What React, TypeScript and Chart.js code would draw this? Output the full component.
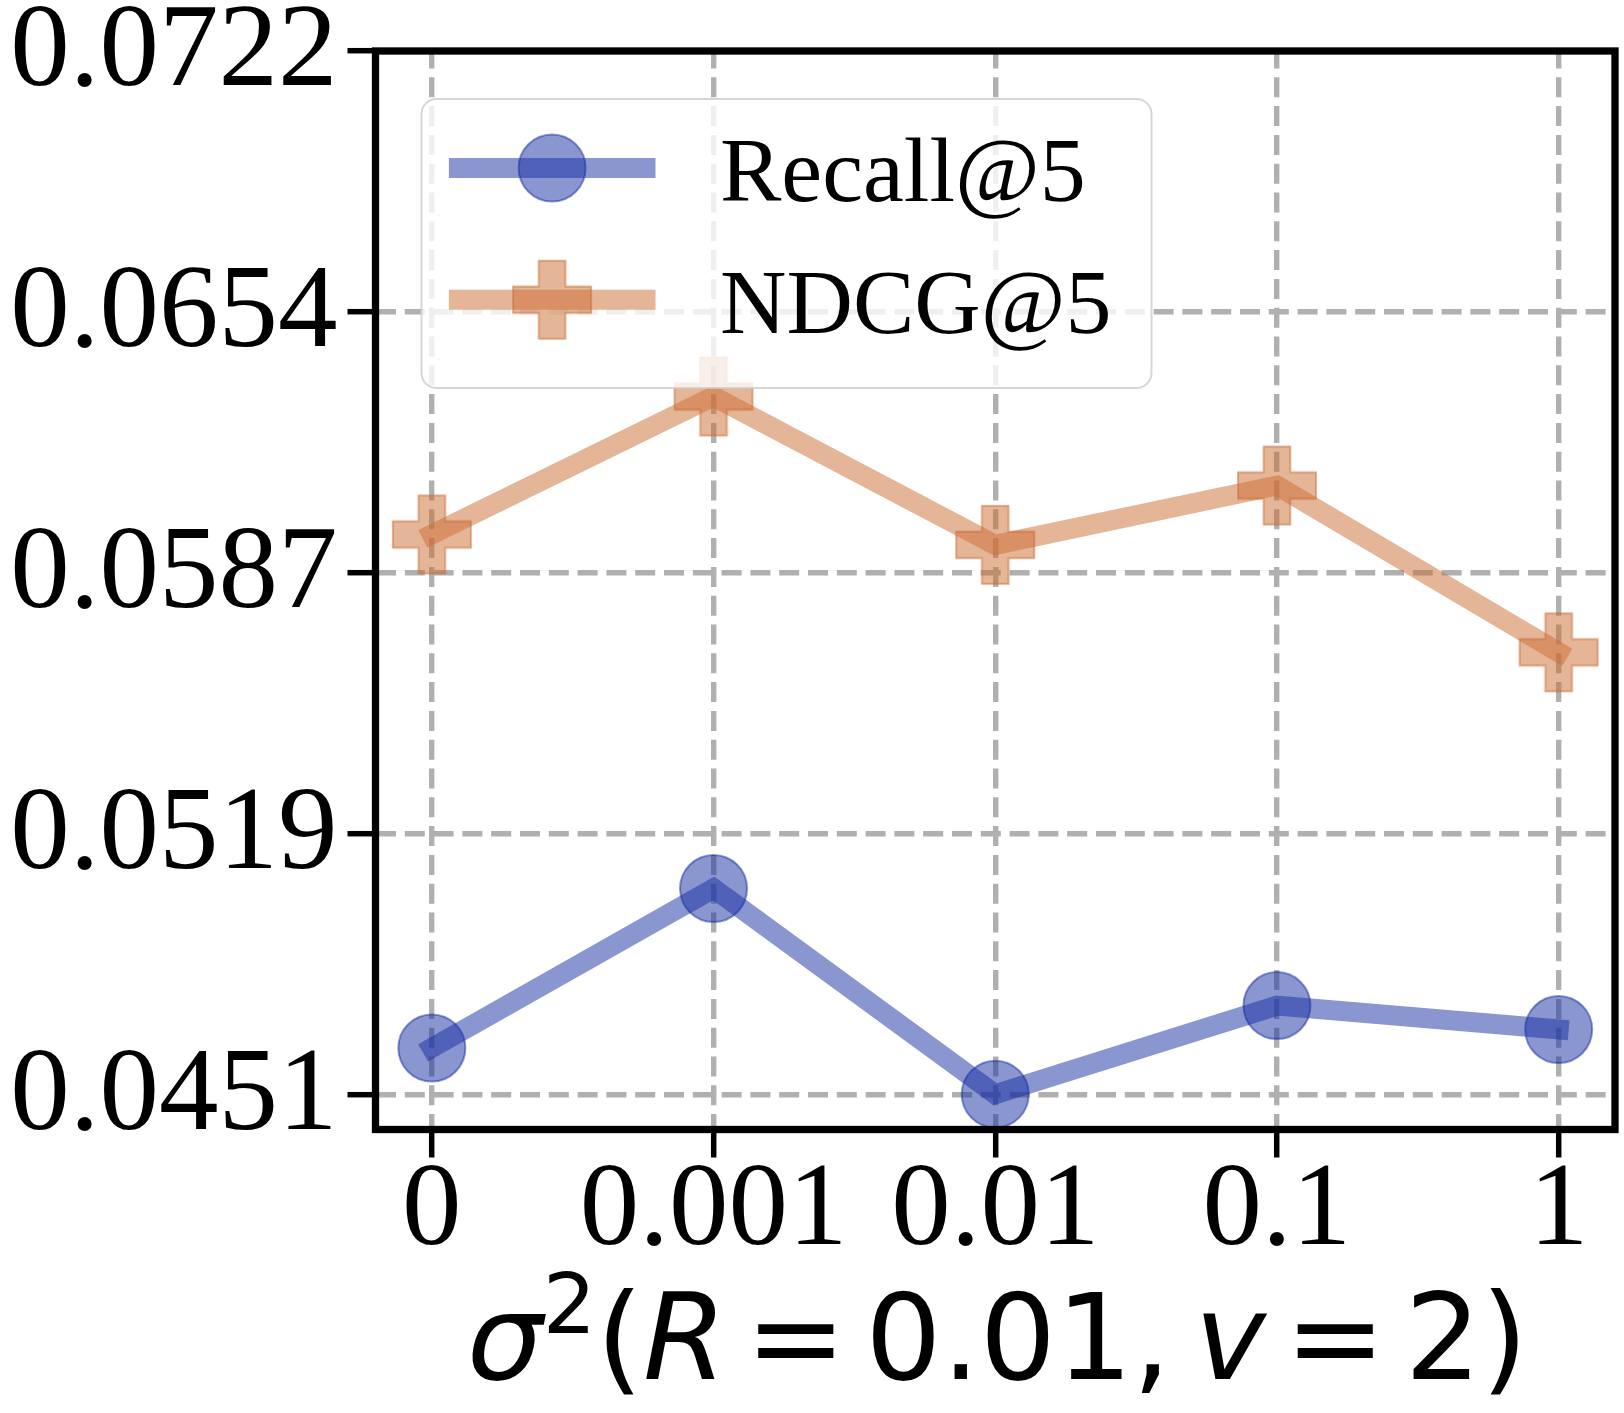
import React, { useEffect, useRef } from 'react';
import { Chart, registerables } from 'chart.js';

Chart.register(...registerables);

// ---------------- data ----------------
const categories = ['0', '0.001', '0.01', '0.1', '1'];
const recallValues = [0.04632, 0.05046, 0.04512, 0.04742, 0.0468];
const ndcgValues = [0.05965, 0.06323, 0.05938, 0.06092, 0.05659];
const yTickLabels = ['0.0451', '0.0519', '0.0587', '0.0654', '0.0722'];
const seriesLabels = ['Recall@5', 'NDCG@5'];
const xTitleParts = [
  { text: 'σ', italic: true, sup: false, gap: 0 },
  { text: '2', italic: false, sup: true, gap: 0 },
  { text: '(', italic: false, sup: false, gap: 0 },
  { text: 'R', italic: true, sup: false, gap: 0 },
  { text: '=', italic: false, sup: false, gap: 0.16 },
  { text: '0.01', italic: false, sup: false, gap: 0.16 },
  { text: ',', italic: false, sup: false, gap: 0 },
  { text: 'v', italic: true, sup: false, gap: 0.2 },
  { text: '=', italic: false, sup: false, gap: 0.16 },
  { text: '2', italic: false, sup: false, gap: 0.16 },
  { text: ')', italic: false, sup: false, gap: 0 },
];

// ---------------- config ----------------
const W = 1624;
const H = 1413;
const Y_FIRST = Number(yTickLabels[0]);
const Y_MAX = Number(yTickLabels[yTickLabels.length - 1]);
const Y_MIN = 0.044204;
const X_MIN = -0.2;
const X_MAX = categories.length - 1 + 0.2;
const yTickValues = yTickLabels.map(
  (_, i) => Y_FIRST + (i * (Y_MAX - Y_FIRST)) / (yTickLabels.length - 1)
);

const BLUE = 'rgba(21,45,161,0.5)';
const ORANGE = 'rgba(203,107,49,0.5)';
const SERIF = '"Liberation Serif", "Times New Roman", Times, serif';
const SANS = '"DejaVu Sans", sans-serif';
const GRID = '#b0b0b0';

function makePlus(size: number, color: string): HTMLCanvasElement {
  const c = document.createElement('canvas');
  const pad = 3;
  c.width = size + pad * 2;
  c.height = size + pad * 2;
  const ctx = c.getContext('2d') as CanvasRenderingContext2D;
  const h = size / 2 - 1;
  const t = size / 6;
  ctx.translate(c.width / 2, c.height / 2);
  ctx.beginPath();
  ctx.moveTo(-t, -h);
  ctx.lineTo(t, -h);
  ctx.lineTo(t, -t);
  ctx.lineTo(h, -t);
  ctx.lineTo(h, t);
  ctx.lineTo(t, t);
  ctx.lineTo(t, h);
  ctx.lineTo(-t, h);
  ctx.lineTo(-t, t);
  ctx.lineTo(-h, t);
  ctx.lineTo(-h, -t);
  ctx.lineTo(-t, -t);
  ctx.closePath();
  ctx.fillStyle = color;
  ctx.fill();
  ctx.lineWidth = 2;
  ctx.lineJoin = 'miter';
  ctx.strokeStyle = color;
  ctx.stroke();
  return c;
}

const framePlugin = {
  id: 'frame',
  afterDatasetsDraw(chart: any) {
    const { ctx, chartArea } = chart;
    const { left, top, right, bottom } = chartArea;
    ctx.save();
    ctx.lineWidth = 7.3;
    ctx.strokeStyle = '#000';
    ctx.lineJoin = 'miter';
    ctx.strokeRect(left, top, right - left, bottom - top);
    ctx.restore();
  },
};

function roundRect(ctx: CanvasRenderingContext2D, x: number, y: number, w: number, h: number, r: number) {
  ctx.beginPath();
  ctx.moveTo(x + r, y);
  ctx.lineTo(x + w - r, y);
  ctx.arcTo(x + w, y, x + w, y + r, r);
  ctx.lineTo(x + w, y + h - r);
  ctx.arcTo(x + w, y + h, x + w - r, y + h, r);
  ctx.lineTo(x + r, y + h);
  ctx.arcTo(x, y + h, x, y + h - r, r);
  ctx.lineTo(x, y + r);
  ctx.arcTo(x, y, x + r, y, r);
  ctx.closePath();
}

const legendPlugin = {
  id: 'boxLegend',
  afterDatasetsDraw(chart: any) {
    const ctx: CanvasRenderingContext2D = chart.ctx;
    const a = chart.chartArea;
    const x0 = a.left + 46;
    const y0 = a.top + 48;
    const w = 730;
    const h = 289;
    ctx.save();
    roundRect(ctx, x0, y0, w, h, 15);
    ctx.fillStyle = 'rgba(255,255,255,0.8)';
    ctx.fill();
    ctx.lineWidth = 2;
    ctx.strokeStyle = 'rgba(204,204,204,0.8)';
    ctx.stroke();

    const rows = [y0 + 69, y0 + 200.7];
    chart.data.datasets.forEach((ds: any, i: number) => {
      const cy = rows[i];
      const mx = x0 + 130.6;
      ctx.lineCap = 'butt';
      ctx.lineWidth = ds.borderWidth;
      ctx.strokeStyle = ds.borderColor;
      ctx.beginPath();
      ctx.moveTo(x0 + 27.4, cy);
      ctx.lineTo(x0 + 234, cy);
      ctx.stroke();
      if (ds.pointStyle === 'circle') {
        ctx.beginPath();
        ctx.arc(mx, cy, ds.pointRadius, 0, Math.PI * 2);
        ctx.fillStyle = ds.pointBackgroundColor;
        ctx.fill();
        ctx.lineWidth = ds.pointBorderWidth;
        ctx.strokeStyle = ds.pointBorderColor;
        ctx.stroke();
      } else {
        const img = ds.pointStyle as HTMLCanvasElement;
        ctx.drawImage(img, mx - img.width / 2, cy - img.height / 2, img.width, img.height);
      }
      ctx.fillStyle = '#000';
      ctx.font = `92px ${SERIF}`;
      ctx.textAlign = 'left';
      ctx.textBaseline = 'alphabetic';
      ctx.fillText(ds.label, x0 + 298.5, cy + 33);
    });
    ctx.restore();
  },
};

const titlePlugin = {
  id: 'xTitleMath',
  afterDraw(chart: any) {
    const ctx: CanvasRenderingContext2D = chart.ctx;
    const a = chart.chartArea;
    const size = 120;
    const supSize = 84;
    const fontOf = (p: any) =>
      `${p.italic ? 'italic ' : ''}${p.sup ? supSize : size}px ${SANS}`;
    ctx.save();
    ctx.fillStyle = '#000';
    ctx.textAlign = 'left';
    ctx.textBaseline = 'alphabetic';
    const widths: number[] = [];
    let total = 0;
    xTitleParts.forEach((p) => {
      ctx.font = fontOf(p);
      const wd = ctx.measureText(p.text).width;
      widths.push(wd);
      total += wd + p.gap * size;
    });
    let x = (a.left + a.right) / 2 - total / 2 + 2;
    const baseline = a.bottom + 249.5;
    xTitleParts.forEach((p, i) => {
      x += p.gap * size;
      ctx.font = fontOf(p);
      ctx.fillText(p.text, x, p.sup ? baseline - 46 : baseline);
      x += widths[i];
    });
    ctx.restore();
  },
};

function zeroPadding(s: any) {
  s.paddingTop = 0;
  s.paddingBottom = 0;
  s.paddingLeft = 0;
  s.paddingRight = 0;
}

export default function App() {
  const ref = useRef<HTMLCanvasElement | null>(null);

  useEffect(() => {
    const canvas = ref.current;
    if (!canvas) return;
    const plus = makePlus(80, ORANGE);
    const chart = new Chart(canvas, {
      type: 'line',
      data: {
        datasets: [
          {
            label: seriesLabels[0],
            data: recallValues.map((y, i) => ({ x: i, y })),
            borderColor: BLUE,
            backgroundColor: BLUE,
            borderWidth: 20,
            borderCapStyle: 'square',
            borderJoinStyle: 'miter',
            pointStyle: 'circle',
            pointRadius: 33.5,
            pointHoverRadius: 33.5,
            pointBorderWidth: 2,
            pointBackgroundColor: BLUE,
            pointBorderColor: BLUE,
            tension: 0,
            clip: 0,
          } as any,
          {
            label: seriesLabels[1],
            data: ndcgValues.map((y, i) => ({ x: i, y })),
            borderColor: ORANGE,
            backgroundColor: ORANGE,
            borderWidth: 20,
            borderCapStyle: 'square',
            borderJoinStyle: 'miter',
            pointStyle: plus,
            pointRadius: 40,
            pointHoverRadius: 40,
            pointBorderWidth: 0,
            pointBackgroundColor: ORANGE,
            pointBorderColor: ORANGE,
            tension: 0,
            clip: 0,
          } as any,
        ],
      },
      options: {
        responsive: false,
        animation: false,
        events: [],
        layout: {
          autoPadding: false,
          padding: { left: 0, top: 51, right: 9, bottom: 0 },
        },
        plugins: {
          legend: { display: false },
          title: { display: false },
          tooltip: { enabled: false },
        },
        scales: {
          x: {
            type: 'linear',
            min: X_MIN,
            max: X_MAX,
            afterFit: (s: any) => {
              s.height = 283.5;
              zeroPadding(s);
            },
            afterBuildTicks: (s: any) => {
              s.ticks = categories.map((_, i) => ({ value: i }));
            },
            ticks: {
              callback: (_v: any, i: number) => categories[i],
              font: { family: SERIF, size: 119 },
              color: '#000',
              padding: -16,
              maxRotation: 0,
              minRotation: 0,
              autoSkip: false,
            },
            grid: {
              color: GRID,
              lineWidth: 5.4,
              tickColor: '#000',
              tickWidth: 5.5,
              tickLength: 28,
              tickBorderDash: [],
            },
            border: { display: false, dash: [20, 8.8], dashOffset: 2.5 },
          },
          y: {
            type: 'linear',
            min: Y_MIN,
            max: Y_MAX,
            afterFit: (s: any) => {
              s.width = 375.5;
              zeroPadding(s);
            },
            afterBuildTicks: (s: any) => {
              s.ticks = yTickValues.map((v) => ({ value: v }));
            },
            ticks: {
              callback: (_v: any, i: number) => yTickLabels[i],
              font: { family: SERIF, size: 119 },
              color: '#000',
              padding: 10,
              labelOffset: 2.5,
              autoSkip: false,
            },
            grid: {
              color: GRID,
              lineWidth: 5.4,
              tickColor: '#000',
              tickWidth: 5.5,
              tickLength: 28,
              tickBorderDash: [],
            },
            border: { display: false, dash: [20, 8.8], dashOffset: 0 },
          },
        },
      } as any,
      plugins: [framePlugin, legendPlugin, titlePlugin],
    });
    return () => {
      chart.destroy();
    };
  }, []);

  return (
    <div style={{ position: 'absolute', left: 0, top: 0, width: W, height: H, background: '#fff' }}>
      <canvas ref={ref} width={W} height={H} style={{ display: 'block' }} />
    </div>
  );
}
